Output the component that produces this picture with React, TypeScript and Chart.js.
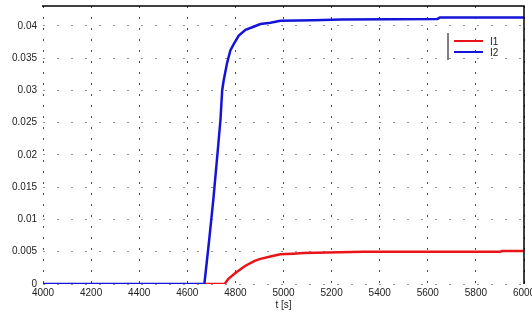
import React, { useEffect, useRef } from "react";
import { Chart, registerables } from "chart.js";

Chart.register(...registerables);

const seriesNames = ["I1", "I2"];
const seriesColors = ["#e8141a", "#1414d8"];

const redT = [4671, 4755, 4771, 4800, 4840, 4880, 4904, 4950, 4987, 5040, 5083, 5333, 5900, 5910, 6000];
const redV = [0, 0, 0.0008, 0.0017, 0.0028, 0.0036, 0.0039, 0.0043, 0.0046, 0.0047, 0.0048, 0.005, 0.005, 0.0051, 0.0051];

const blueT = [4000, 4671, 4690, 4708, 4725, 4738, 4745, 4751, 4765, 4779, 4793, 4814, 4842, 4870, 4904, 4946, 4987, 5125, 5240, 5640, 5650, 6000];
const blueV = [0, 0, 0.0065, 0.013, 0.02, 0.0255, 0.03, 0.0315, 0.0342, 0.0362, 0.0372, 0.0385, 0.0394, 0.0398, 0.0403, 0.0405, 0.0408, 0.0409, 0.041, 0.0411, 0.0413, 0.0413];

const xMin = 4000;
const xMax = 6000;
const xStep = 200;
const yMin = 0;
const yMax = 0.0431;
const yStep = 0.005;
const xTitle = "t [s]";

const FONT = "'Liberation Sans', Arial, sans-serif";

const framePlugin = {
  id: "frame",
  afterDatasetsDraw(chart: any) {
    const { ctx, chartArea } = chart;
    ctx.save();
    ctx.strokeStyle = "#000";
    ctx.lineWidth = 1.5;
    ctx.beginPath();
    ctx.moveTo(chartArea.left - 1, chartArea.top);
    ctx.lineTo(chartArea.right, chartArea.top);
    ctx.lineTo(chartArea.right, chartArea.bottom);
    ctx.stroke();
    // legend
    const lx = chartArea.right - 76;
    const ly = chartArea.top + 27;
    ctx.lineWidth = 1;
    ctx.beginPath();
    ctx.moveTo(lx, ly);
    ctx.lineTo(lx, ly + 27);
    ctx.stroke();
    chart.data.datasets.forEach((ds: any, i: number) => {
      const y = ly + 8 + i * 11;
      ctx.strokeStyle = ds.borderColor;
      ctx.lineWidth = 2;
      ctx.beginPath();
      ctx.moveTo(lx + 6, y);
      ctx.lineTo(lx + 35, y);
      ctx.stroke();
      ctx.fillStyle = "#222";
      ctx.font = `10px ${FONT}`;
      ctx.textBaseline = "middle";
      ctx.textAlign = "left";
      ctx.fillText(ds.label, lx + 42, y + 1);
    });
    ctx.restore();
  },
};

export default function App() {
  const ref = useRef<HTMLCanvasElement>(null);
  useEffect(() => {
    const canvas = ref.current!;
    const chart = new Chart(canvas, {
      type: "line",
      data: {
        datasets: [
          {
            label: seriesNames[0],
            data: redT.map((t, i) => ({ x: t, y: redV[i] })),
            borderColor: seriesColors[0],
            borderWidth: 2.5,
            pointRadius: 0,
            tension: 0,
            order: 1,
          },
          {
            label: seriesNames[1],
            data: blueT.map((t, i) => ({ x: t, y: blueV[i] })),
            borderColor: seriesColors[1],
            borderWidth: 2.5,
            pointRadius: 0,
            tension: 0,
            order: 0,
          },
        ],
      },
      options: {
        animation: false,
        responsive: false,
        maintainAspectRatio: false,
        layout: { padding: { top: 6, right: 8, left: 0, bottom: 13 } },
        plugins: { legend: { display: false }, tooltip: { enabled: false } },
        scales: {
          x: {
            type: "linear",
            min: xMin,
            max: xMax,
            border: { display: false, dash: [2, 9] },
            grid: {
              color: "rgba(30,30,30,0.8)",
              lineWidth: 1,
              drawTicks: false,
            },
            ticks: {
              stepSize: xStep,
              includeBounds: false,
              padding: 3,
              color: "#222",
              font: { family: FONT, size: 10 },
              maxRotation: 0,
              autoSkip: false,
              callback: (v: any) => String(v),
            },
            title: {
              display: true,
              text: xTitle,
              color: "#222",
              font: { family: FONT, size: 10 },
              padding: { top: 0, bottom: 0 },
            },
            afterFit: (s: any) => {
              s.height = 27;
              s.paddingLeft = 0;
              s.paddingRight = 0;
            },
          } as any,
          y: {
            type: "linear",
            min: yMin,
            max: yMax,
            border: { display: false, dash: [2, 12] },
            grid: {
              color: "rgba(80,80,80,0.6)",
              lineWidth: 1,
              drawTicks: false,
            },
            ticks: {
              stepSize: yStep,
              includeBounds: false,
              padding: 6,
              color: "#222",
              font: { family: FONT, size: 10 },
              callback: (v: any) => String(parseFloat(Number(v).toFixed(4))),
            },
            afterFit: (s: any) => {
              s.width = 43;
              s.paddingTop = 0;
              s.paddingBottom = 0;
            },
          } as any,
        },
      },
      plugins: [framePlugin],
    } as any);
    return () => chart.destroy();
  }, []);
  return (
    <div style={{ position: "fixed", left: 0, top: 0, width: 532, height: 324, background: "#fff" }}>
      <canvas ref={ref} width={532} height={324} style={{ width: 532, height: 324, display: "block" }} />
    </div>
  );
}
